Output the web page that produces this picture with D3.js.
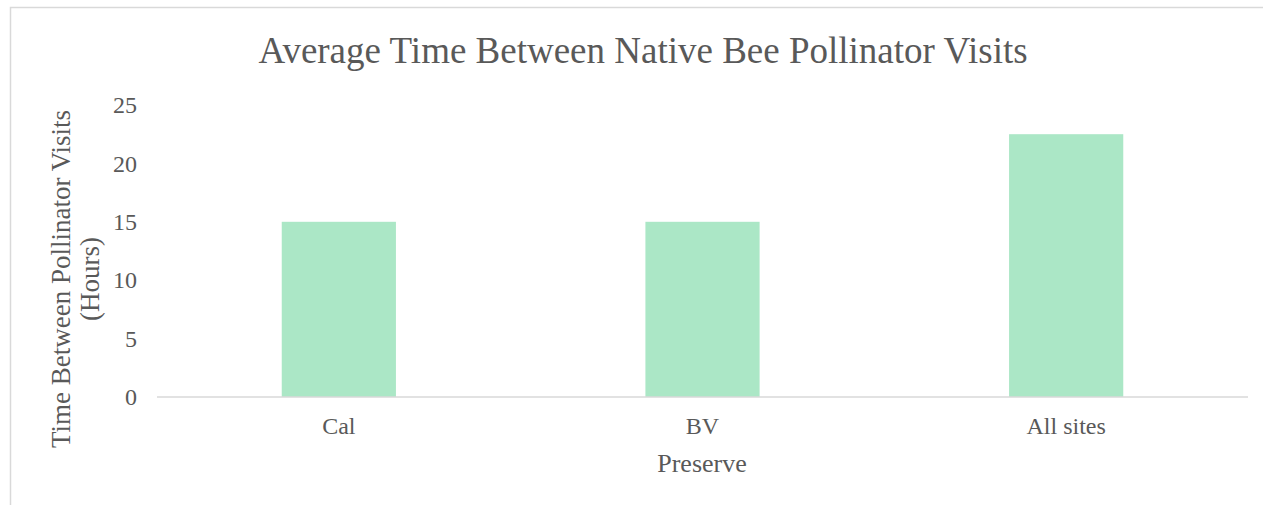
<!DOCTYPE html>
<html>
<head>
<meta charset="utf-8">
<script src="https://cdn.jsdelivr.net/npm/d3@7"></script>
<style>
body { margin: 0; background: #fff; }
text { font-family: "Liberation Serif", "Times New Roman", serif; fill: #595959; }
</style>
</head>
<body>
<svg id="chart" width="1263" height="505"></svg>
<script>
// chart data
const sites = ["Cal", "BV", "All sites"];
const hours = [15, 15, 22.5];
const yTicks = [0, 5, 10, 15, 20, 25];

const svg = d3.select("#chart");
const W = 1263, H = 505;
const plot = { left: 157, right: 1248, top: 105, bottom: 397 };

// outer frame
svg.append("rect")
    .attr("x", 10.5).attr("y", 7.5)
    .attr("width", W).attr("height", H)
    .attr("fill", "none")
    .attr("stroke", "#d9d9d9")
    .attr("stroke-width", 1.5);

let x = d3.scaleBand()
    .domain(sites)
    .range([plot.left, plot.right])
    .paddingInner(0.686)
    .paddingOuter(0.343);

let y = d3.scaleLinear()
    .domain([0, 25])
    .range([plot.bottom, plot.top]);

// bars
svg.selectAll("rect.bar")
    .data(sites)
    .join("rect")
    .attr("class", "bar")
    .attr("x", d => x(d))
    .attr("width", x.bandwidth())
    .attr("y", (d, i) => y(hours[i]))
    .attr("height", (d, i) => y(0) - y(hours[i]))
    .attr("fill", "#abe7c6");

// baseline
svg.append("line")
    .attr("x1", plot.left).attr("x2", plot.right)
    .attr("y1", y(0)).attr("y2", y(0))
    .attr("stroke", "#d9d9d9")
    .attr("stroke-width", 1.5);

// y tick labels
svg.selectAll("text.ytick")
    .data(yTicks)
    .join("text")
    .attr("class", "ytick")
    .attr("x", 137)
    .attr("y", d => y(d))
    .attr("dy", "0.34em")
    .attr("text-anchor", "end")
    .style("font-size", "24px")
    .text(d => d);

// x tick labels
svg.selectAll("text.xtick")
    .data(sites)
    .join("text")
    .attr("class", "xtick")
    .attr("x", d => x(d) + x.bandwidth() / 2)
    .attr("y", 434)
    .attr("text-anchor", "middle")
    .style("font-size", "24px")
    .text(d => d);

// title
svg.append("text")
    .attr("x", 643)
    .attr("y", 63)
    .attr("text-anchor", "middle")
    .style("font-size", "37px")
    .text("Average Time Between Native Bee Pollinator Visits");

// x axis title
svg.append("text")
    .attr("x", 702)
    .attr("y", 472)
    .attr("text-anchor", "middle")
    .style("font-size", "26px")
    .text("Preserve");

// y axis title, two lines
let yt = svg.append("text")
    .attr("transform", "translate(70,279) rotate(-90)")
    .attr("text-anchor", "middle")
    .style("font-size", "27px");
yt.append("tspan").attr("x", 0).attr("y", 0).text("Time Between Pollinator Visits");
yt.append("tspan").attr("x", 0).attr("y", 29).text("(Hours)");
</script>
</body>
</html>
